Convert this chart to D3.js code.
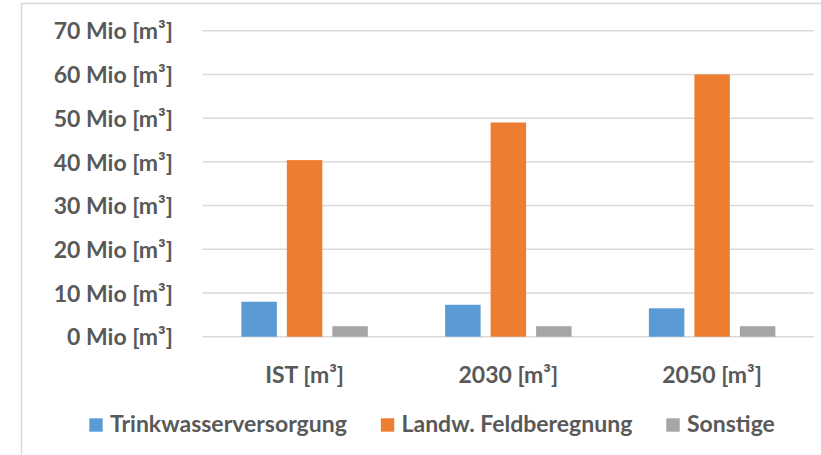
<!DOCTYPE html>
<html>
<head>
<meta charset="utf-8">
<script src="https://cdn.jsdelivr.net/npm/d3@7"></script>
<style>
  html, body { margin: 0; padding: 0; background: #fff; }
  svg { display: block; }
  text { font-family: Lato, "Open Sans", sans-serif; font-weight: bold; fill: #595959; }
</style>
</head>
<body>
<svg id="chart" width="821" height="455"></svg>
<script>
var categories = ["IST [m³]", "2030 [m³]", "2050 [m³]"];
var seriesNames = ["Trinkwasserversorgung", "Landw. Feldberegnung", "Sonstige"];
var trinkwasser = [8.0, 7.3, 6.5];
var feldberegnung = [40.4, 49.0, 60.0];
var sonstige = [2.4, 2.4, 2.4];
var yTicks = [0, 10, 20, 30, 40, 50, 60, 70];
var colors = ["#5B9BD5", "#ED7D31", "#A5A5A5"];

var values = [trinkwasser, feldberegnung, sonstige];

var svg = d3.select("#chart");

// chart frame (cropped: only top and left edge visible)
svg.append("line").attr("x1", 21).attr("x2", 821).attr("y1", 3.5).attr("y2", 3.5)
  .attr("stroke", "#D9D9D9").attr("stroke-width", 1.5);
svg.append("line").attr("x1", 21.5).attr("x2", 21.5).attr("y1", 3).attr("y2", 455)
  .attr("stroke", "#D9D9D9").attr("stroke-width", 1.5);

var x = d3.scaleBand().domain(categories).range([202.7, 814]).padding(0);
var xs = d3.scaleBand().domain(seriesNames).range([0, x.bandwidth()])
  .paddingInner(0.22).paddingOuter(0.85);
var y = d3.scaleLinear().domain([0, 70]).range([336.7, 30.7]);

// gridlines
svg.append("g").selectAll("line").data(yTicks).join("line")
  .attr("x1", 202.7).attr("x2", 814)
  .attr("y1", function(d) { return y(d); }).attr("y2", function(d) { return y(d); })
  .attr("stroke", "#D9D9D9").attr("stroke-width", 1.5);

// y axis labels
var yaxis = d3.axisLeft(y).tickValues(yTicks).tickSize(0).tickPadding(0)
  .tickFormat(function(d) { return d + " Mio [m³]"; });
var gy = svg.append("g").attr("transform", "translate(173,0)").call(yaxis);
gy.select(".domain").remove();
gy.selectAll("text").attr("font-size", 23).attr("dy", "0.36em")
  .attr("font-family", null).attr("fill", "#595959");

// bars
var groups = svg.append("g").selectAll("g").data(categories).join("g")
  .attr("transform", function(d) { return "translate(" + x(d) + ",0)"; });
groups.selectAll("rect")
  .data(function(c, i) {
    return seriesNames.map(function(s, j) { return { s: s, v: values[j][i], c: colors[j] }; });
  })
  .join("rect")
  .attr("x", function(d) { return xs(d.s); })
  .attr("width", xs.bandwidth())
  .attr("y", function(d) { return y(d.v); })
  .attr("height", function(d) { return y(0) - y(d.v); })
  .attr("fill", function(d) { return d.c; });

// x axis labels
var xaxis = d3.axisBottom(x).tickSize(0).tickPadding(0);
var gx = svg.append("g").attr("transform", "translate(0,383)").call(xaxis);
gx.select(".domain").remove();
gx.selectAll("text").attr("font-size", 23).attr("dy", 0)
  .attr("font-family", null).attr("fill", "#595959");

// legend
var legend = svg.append("g");
var lx = 89.3;
seriesNames.forEach(function(name, i) {
  legend.append("rect").attr("x", lx).attr("y", 418.3).attr("width", 13.4).attr("height", 13.4)
    .attr("fill", colors[i]);
  var t = legend.append("text").attr("x", lx + 20.7).attr("y", 432)
    .attr("font-size", 23).text(name);
  lx = lx + 20.7 + t.node().getComputedTextLength() + 34;
});
</script>
</body>
</html>
